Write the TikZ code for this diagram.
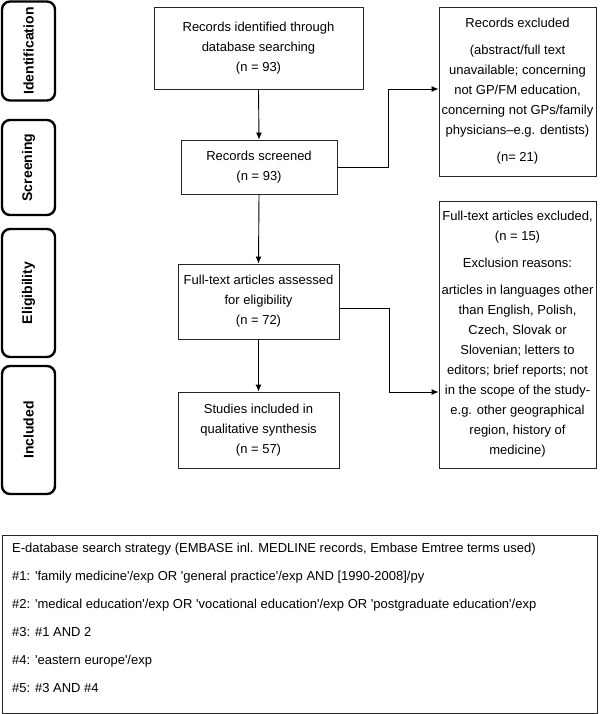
\documentclass[tikz,border=0pt]{standalone}
\usepackage{fontspec}
\setmainfont{Liberation Sans}
\usetikzlibrary{arrows.meta}
\newcommand{\sq}{\textquotesingle}
\begin{document}
\begin{tikzpicture}[x=1pt,y=-1pt,
  flowbox/.style={draw=black!85, line width=0.9pt, rectangle, align=center, inner sep=0pt,
    font=\fontsize{13}{20}\selectfont},
  phase/.style={draw=black, line width=2.4pt, rounded corners=8pt, inner sep=0pt,
    font=\fontsize{14}{16}\selectfont\bfseries},
  arr/.style={line width=0.9pt, -{Latex[length=7pt,width=6pt]}},
  ln/.style={line width=0.9pt}]
\useasboundingbox (0,0) rectangle (600,714);
% phase labels
\node[phase, minimum width=53pt, minimum height=99pt] (pid) at (28.5,51) {};
\node[rotate=90, font=\fontsize{14}{16}\selectfont\bfseries] (tid) at (pid.center) {Identification};
\node[phase, minimum width=53pt, minimum height=95pt] (psc) at (28.5,167.5) {};
\node[rotate=90, font=\fontsize{14}{16}\selectfont\bfseries] (tsc) at (psc.center) {Screening};
\node[phase, minimum width=53pt, minimum height=128pt] (pel) at (28.5,293) {};
\node[rotate=90, font=\fontsize{14}{16}\selectfont\bfseries] (tel) at (pel.center) {Eligibility};
\node[phase, minimum width=53pt, minimum height=128pt] (pin) at (28.5,430) {};
\node[rotate=90, font=\fontsize{14}{16}\selectfont\bfseries] (tin) at (pin.center) {Included};
% flow boxes
\node[flowbox, minimum width=209pt, minimum height=82pt] (b1) at (258.5,48)
  {Records identified through\\database searching\\(n = 93)};
\node[flowbox, minimum width=156pt, minimum height=54pt] (b2) at (259,167)
  {Records screened\\(n = 93)};
\node[flowbox, minimum width=161pt, minimum height=75pt] (b3) at (258.5,301.5)
  {Full-text articles assessed\\for eligibility\\(n = 72)};
\node[flowbox, minimum width=161pt, minimum height=76pt] (b4) at (258.5,430)
  {Studies included in\\qualitative synthesis\\(n = 57)};
\node[flowbox, minimum width=157pt, minimum height=169pt] (e1) at (517.5,91.5)
  {Records excluded\\[7pt](abstract/full text\\unavailable; concerning\\not GP/FM education,\\concerning not GPs/family\\physicians\textendash e.g. dentists)\\[7pt](n= 21)};
\node[flowbox, minimum width=157pt, minimum height=267pt] (e2) at (517.5,334.5)
  {Full-text articles excluded,\\(n = 15)\\[7pt]Exclusion reasons:\\[7pt]articles in languages other\\than English, Polish,\\Czech, Slovak or\\Slovenian; letters to\\editors; brief reports; not\\in the scope of the study-\\e.g. other geographical\\region, history of\\medicine)};
% search strategy box
\node[draw=black!85, line width=0.9pt, rectangle, minimum width=595pt, minimum height=178pt, inner sep=0pt] (sb) at (299.5,624) {};
\node[anchor=north west, align=left, inner sep=0pt, font=\fontsize{13}{28}\selectfont] (st) at (12,543)
  {E-database search strategy (EMBASE inl. MEDLINE records, Embase Emtree terms used)\\
   \#1: \sq family medicine\sq/exp OR \sq general practice\sq/exp AND [1990-2008]/py\\
   \#2: \sq medical education\sq/exp OR \sq vocational education\sq/exp OR \sq postgraduate education\sq/exp\\
   \#3: \#1 AND 2\\
   \#4: \sq eastern europe\sq/exp\\
   \#5: \#3 AND \#4};
% connectors
\coordinate (k1) at (388,89);
\coordinate (k2) at (389,392);
\coordinate (s3) at (339,308);
\draw[arr] (b1.south) -- (b2.north);
\draw[arr] (b2.south) -- (b3.north);
\draw[arr] (b3.south) -- (b4.north);
\draw[arr] (b2.east) -- (b2.east -| k1) -- (k1) -- (k1 -| e1.west);
\draw[arr] (s3) -- (s3 -| k2) -- (k2) -- (k2 -| e2.west);
\end{tikzpicture}
\end{document}
